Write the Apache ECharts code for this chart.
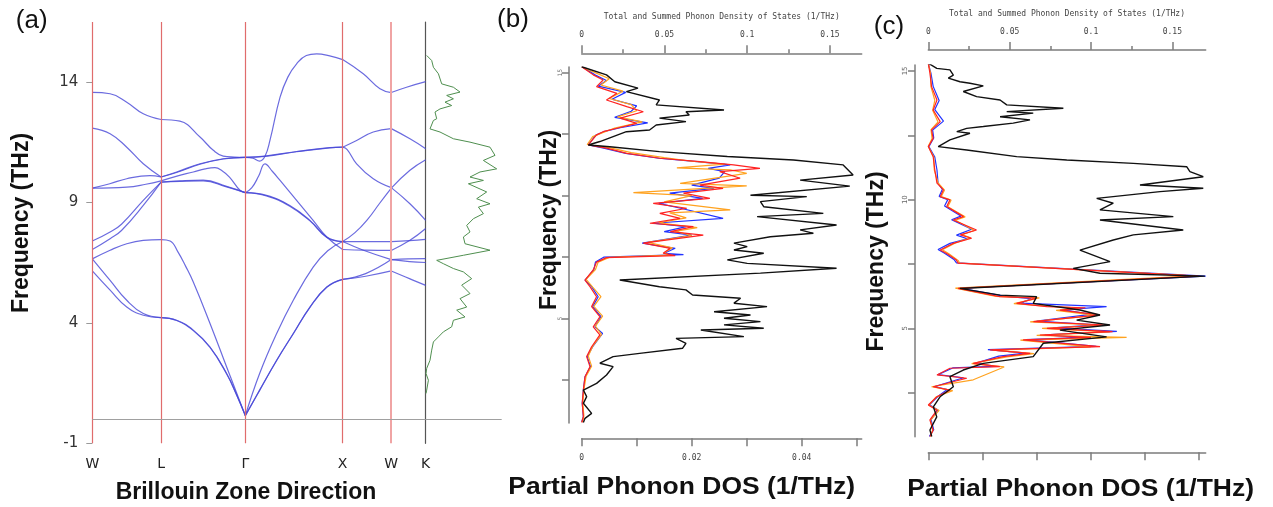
<!DOCTYPE html>
<html><head><meta charset="utf-8">
<script src="https://cdn.jsdelivr.net/npm/echarts@6/dist/echarts.min.js"></script>
<style>html,body{margin:0;padding:0;background:#fff}#c{width:1273px;height:507px}</style>
</head><body><div id="c"></div><script>
// ---------- Panel (a): band structure ----------
const kPos = [0, 0.707, 1.573, 2.573, 3.073, 3.427];
const kLabels = ['W', 'L', 'Γ', 'X', 'W', 'K'];
const freqTicksA = [-1, 4, 9, 14];

const band1 = [[0,13.58],[0.183,13.52],[0.354,13.17],[0.524,12.69],[0.707,12.45],[0.90,12.38],[1.107,11.72],[1.244,11.17],[1.346,10.93],[1.46,10.89],[1.573,10.88],[1.65,10.84],[1.72,10.72],[1.775,10.92],[1.826,11.58],[1.93,13.38],[2.01,14.21],[2.10,14.76],[2.20,15.11],[2.306,15.18],[2.45,15.08],[2.573,14.94],[2.785,14.35],[2.957,13.73],[3.073,13.57],[3.23,13.79],[3.427,14.02]];
const band2 = [[0,12.09],[0.183,11.86],[0.354,11.30],[0.524,10.61],[0.707,10.06],[0.867,10.27],[1.107,10.61],[1.346,10.82],[1.573,10.88],[1.775,10.93],[2.10,11.12],[2.44,11.28],[2.573,11.30],[2.717,11.58],[2.888,11.93],[3.073,12.07],[3.265,11.65],[3.427,11.24]];
const band3 = [[0,9.6],[0.18,9.78],[0.354,9.99],[0.593,10.12],[0.707,10.06],[0.867,10.25],[1.107,10.59],[1.346,10.81],[1.573,10.88],[1.775,10.92],[2.10,11.11],[2.44,11.27],[2.573,11.30],[2.62,11.2],[2.717,10.61],[2.888,9.99],[3.073,9.62],[3.265,8.95],[3.427,8.26]];
const band4 = [[0,9.6],[0.354,9.64],[0.55,9.76],[0.707,9.9],[0.87,10.1],[1.038,10.27],[1.16,10.4],[1.261,10.45],[1.34,10.3],[1.41,10.06],[1.518,9.51],[1.573,9.41],[1.64,9.62],[1.71,10.1],[1.775,10.61],[1.85,10.3],[1.93,9.92],[2.10,9.09],[2.27,8.26],[2.41,7.57],[2.573,7.05],[2.8,7.02],[3.073,7.01],[3.265,7.43],[3.427,7.92]];
const band5 = [[0,7.40],[0.183,7.78],[0.30,8.1],[0.524,9.09],[0.707,9.85],[0.9,9.9],[1.14,9.93],[1.38,9.67],[1.573,9.41],[1.79,9.30],[2.03,8.88],[2.237,8.26],[2.41,7.57],[2.573,7.38],[2.8,7.38],[3.073,7.38],[3.26,7.42],[3.427,7.47]];
const band6 = [[0,7.05],[0.183,7.5],[0.30,7.84],[0.524,8.88],[0.707,9.85],[0.9,9.88],[1.14,9.9],[1.38,9.65],[1.573,9.41],[1.79,9.28],[2.03,8.85],[2.237,8.24],[2.41,7.55],[2.573,7.38],[2.787,7.02],[3.073,6.63],[3.26,6.55],[3.427,6.51]];
const band7 = [[0,6.66],[0.183,7.02],[0.354,7.29],[0.524,7.43],[0.707,7.46],[0.80,7.40],[0.88,6.95],[0.96,6.35],[1.038,5.70],[1.21,3.98],[1.381,2.17],[1.573,0.15],[1.72,1.90],[1.895,3.56],[2.066,4.94],[2.27,6.32],[2.42,7.0],[2.573,7.38],[2.70,7.75],[2.83,8.3],[2.95,8.95],[3.073,9.6],[3.265,10.34],[3.427,10.78]];
const band8 = [[0,6.66],[0.183,5.77],[0.354,4.94],[0.524,4.39],[0.707,4.22],[0.867,4.11],[1.038,3.70],[1.21,3.0],[1.381,1.90],[1.48,1.05],[1.573,0.15],[1.72,1.21],[1.895,2.45],[2.066,3.56],[2.237,4.66],[2.41,5.49],[2.573,5.81],[2.81,6.05],[3.073,6.63],[3.25,6.66],[3.427,6.67]];
const band9 = [[0,6.16],[0.183,5.36],[0.354,4.66],[0.524,4.32],[0.707,4.22],[0.867,4.10],[1.038,3.68],[1.21,2.98],[1.381,1.88],[1.48,1.04],[1.573,0.15],[1.72,1.20],[1.895,2.44],[2.066,3.55],[2.237,4.65],[2.41,5.48],[2.573,5.81],[2.81,5.94],[3.073,6.16],[3.26,5.84],[3.427,5.56]];

// DOS of panel (a), arbitrary units
const dosA = [[1,15.11],[6,14.90],[7.7,14.62],[12.7,14.35],[16,13.93],[27.7,13.79],[34.3,13.59],[21,13.45],[27.7,13.31],[19.3,13.17],[26,13.03],[14.3,12.89],[9.3,12.76],[11,12.48],[7.7,12.41],[4.3,12.06],[14.3,11.93],[27.7,11.65],[44.3,11.51],[64.3,11.30],[69.3,10.96],[57.7,10.75],[71,10.40],[54.3,10.27],[44.3,10.06],[57.7,9.92],[42.7,9.78],[61,9.44],[51,9.16],[64.3,8.95],[52.7,8.81],[57.7,8.54],[47.7,8.33],[41,8.05],[44.3,7.78],[37.7,7.57],[39.3,7.29],[64.3,7.02],[37.7,6.81],[11,6.60],[17.7,6.46],[27.7,6.26],[37.7,6.12],[46,5.84],[36,5.57],[44.3,5.22],[34.3,5.01],[41,4.66],[31,4.53],[39.3,4.25],[27.7,4.11],[26,3.84],[17.7,3.63],[12.7,3.42],[7.7,3.21],[6,2.87],[4.3,2.45],[1,2.11],[0.3,1.90],[2.7,1.62],[1,1.21],[0.3,1.07]];

// ---------- Panel (b) ----------
const totalB = [[0,15.24],[0.015,14.91],[0.020,14.63],[0.034,14.37],[0.027,14.23],[0.047,13.89],[0.045,13.69],[0.086,13.48],[0.063,13.41],[0.065,13.28],[0.047,13.15],[0.063,13.01],[0.045,12.87],[0.041,12.67],[0.027,12.60],[0.019,12.40],[0.011,12.20],[0.004,12.06],[0.017,11.99],[0.047,11.79],[0.088,11.59],[0.128,11.45],[0.158,11.25],[0.164,10.84],[0.132,10.63],[0.162,10.39],[0.102,10.02],[0.136,9.96],[0.108,9.76],[0.110,9.55],[0.146,9.28],[0.106,9.15],[0.154,8.81],[0.132,8.61],[0.140,8.47],[0.114,8.33],[0.092,8.07],[0.100,7.93],[0.092,7.79],[0.110,7.66],[0.088,7.39],[0.100,7.25],[0.154,7.05],[0.108,6.85],[0.023,6.57],[0.047,6.30],[0.063,6.17],[0.067,5.96],[0.096,5.83],[0.092,5.63],[0.112,5.49],[0.080,5.28],[0.102,5.15],[0.086,5.02],[0.108,4.88],[0.086,4.75],[0.110,4.61],[0.072,4.54],[0.098,4.27],[0.057,4.20],[0.063,4.00],[0.061,3.80],[0.035,3.59],[0.019,3.46],[0.011,3.19],[0.019,3.05],[0.015,2.71],[0.009,2.37],[0.001,2.10],[0.003,1.83],[0.001,1.56],[0.006,1.15],[0.002,0.95],[0.001,0.78]];
const redB = [[0,15.24],[0.0021,14.91],[0.0039,14.70],[0.0027,14.43],[0.0064,14.16],[0.0045,13.89],[0.0082,13.62],[0.0112,13.41],[0.0070,13.15],[0.0100,12.94],[0.0064,12.74],[0.0039,12.60],[0.0027,12.47],[0.0012,12.06],[0.0045,11.93],[0.0082,11.72],[0.0142,11.52],[0.0215,11.38],[0.0276,11.25],[0.0324,11.11],[0.0251,10.98],[0.0288,10.71],[0.0215,10.43],[0.0257,10.30],[0.0185,10.10],[0.0233,9.89],[0.0130,9.69],[0.0191,9.49],[0.0142,9.28],[0.0179,9.08],[0.0124,8.88],[0.0203,8.74],[0.0161,8.54],[0.0221,8.40],[0.0112,8.07],[0.0161,7.86],[0.0148,7.66],[0.0170,7.56],[0.0045,7.48],[0.0027,7.30],[0.0021,6.98],[0.0006,6.57],[0.0015,6.30],[0.0027,5.89],[0.0018,5.49],[0.0033,5.08],[0.0021,4.67],[0.0033,4.34],[0.0018,3.86],[0.0009,3.46],[0.0015,3.05],[0.0006,2.64],[0.0003,2.10],[0.0001,1.56],[0.0003,1.02],[0,0.78]];
const orangeB = [[0.0003,15.2],[0.0030,14.95],[0.0050,14.75],[0.0035,14.5],[0.0075,14.25],[0.0050,13.95],[0.0090,13.7],[0.0100,13.45],[0.0065,13.2],[0.0110,13.0],[0.0060,12.75],[0.0045,12.62],[0.0020,12.40],[0.0010,12.08],[0.0050,11.95],[0.0090,11.75],[0.0150,11.55],[0.0200,11.40],[0.0260,11.28],[0.0173,11.13],[0.0270,11.05],[0.0300,10.91],[0.0179,10.50],[0.0300,10.40],[0.0094,10.12],[0.0200,10.0],[0.0150,9.75],[0.0270,9.42],[0.0160,9.30],[0.0190,9.10],[0.0140,8.90],[0.0210,8.70],[0.0170,8.55],[0.0200,8.38],[0.0120,8.10],[0.0165,7.88],[0.0150,7.68],[0.0160,7.58],[0.0050,7.49],[0.0030,7.30],[0.0025,7.0],[0.0008,6.60],[0.0020,6.28],[0.0035,5.90],[0.0022,5.50],[0.0038,5.10],[0.0025,4.70],[0.0036,4.35],[0.0020,3.88],[0.0012,3.48],[0.0018,3.07],[0.0008,2.66],[0.0004,2.12],[0.0002,1.58],[0.0004,1.04],[0.0001,0.8]];
const blueB = [[0.0002,15.22],[0.0025,14.90],[0.0045,14.68],[0.0030,14.45],[0.0080,14.20],[0.0055,13.92],[0.0100,13.65],[0.0090,13.43],[0.0060,13.18],[0.0120,12.96],[0.0070,12.76],[0.0040,12.60],[0.0025,12.45],[0.0012,12.06],[0.0040,11.93],[0.0080,11.72],[0.0140,11.52],[0.0210,11.38],[0.0270,11.25],[0.0230,11.11],[0.0260,10.98],[0.0250,10.71],[0.0200,10.43],[0.0240,10.30],[0.0160,10.10],[0.0220,9.89],[0.0140,9.69],[0.0180,9.49],[0.0257,9.08],[0.0130,8.88],[0.0190,8.74],[0.0150,8.54],[0.0200,8.40],[0.0110,8.07],[0.0170,7.86],[0.0150,7.66],[0.0185,7.60],[0.0040,7.50],[0.0025,7.30],[0.0022,6.98],[0.0006,6.57],[0.0018,6.30],[0.0030,5.89],[0.0020,5.49],[0.0035,5.08],[0.0024,4.67],[0.0038,4.40],[0.0020,3.86],[0.0010,3.46],[0.0016,3.05],[0.0006,2.64],[0.0003,2.10],[0.0001,1.56],[0.0003,1.02],[0,0.8]];

// ---------- Panel (c) ----------
const totalC = [[0,15.30],[0.0052,15.10],[0.0133,15.04],[0.0154,14.84],[0.0123,14.72],[0.0195,14.58],[0.0256,14.52],[0.0338,14.42],[0.0215,14.20],[0.0297,14.00],[0.0441,13.87],[0.0482,13.68],[0.0830,13.55],[0.0482,13.42],[0.0645,13.36],[0.0441,13.22],[0.0625,13.10],[0.0522,12.97],[0.0338,12.84],[0.0236,12.77],[0.0175,12.64],[0.0256,12.58],[0.0133,12.32],[0.0061,12.06],[0.0236,11.93],[0.0543,11.67],[0.0851,11.54],[0.1260,11.41],[0.1588,11.28],[0.1608,11.09],[0.1690,10.89],[0.1301,10.57],[0.1690,10.44],[0.1424,10.31],[0.1035,10.05],[0.1137,9.86],[0.1055,9.60],[0.1506,9.34],[0.1055,9.21],[0.1567,8.82],[0.1260,8.63],[0.1137,8.43],[0.0932,8.04],[0.1117,7.59],[0.0891,7.33],[0.1055,7.14],[0.1700,7.03],[0.0194,6.55],[0.0441,6.29],[0.0666,6.23],[0.0645,5.97],[0.0932,5.71],[0.1055,5.52],[0.0912,5.32],[0.1117,5.13],[0.0809,4.93],[0.1096,4.67],[0.0707,4.42],[0.0645,3.90],[0.0338,3.64],[0.0215,3.38],[0.0133,3.12],[0.0154,2.73],[0.0072,2.34],[0.0031,1.95],[0.0052,1.56],[0.0010,1.05],[0.0021,0.80]];
const redC = [[0,15.30],[0.0003,14.91],[0.0006,14.39],[0.0016,13.87],[0.0009,13.48],[0.0022,13.03],[0.0006,12.71],[0.0009,12.38],[0,12.06],[0.0009,11.67],[0.0012,11.15],[0.0016,10.64],[0.0028,10.38],[0.0022,10.11],[0.0040,9.99],[0.0034,9.73],[0.0065,9.34],[0.0046,9.21],[0.0089,8.82],[0.0059,8.63],[0.0080,8.50],[0.0046,8.30],[0.0022,8.04],[0.0034,7.91],[0.0052,7.65],[0.0055,7.53],[0.0498,7.03],[0.0055,6.55],[0.0132,6.23],[0.0200,6.17],[0.0163,5.97],[0.0219,5.84],[0.0290,5.80],[0.0243,5.71],[0.0317,5.52],[0.0194,5.26],[0.0329,5.13],[0.0219,5.00],[0.0340,4.87],[0.0206,4.74],[0.0300,4.65],[0.0175,4.55],[0.0317,4.29],[0.0114,4.16],[0.0188,4.03],[0.0138,3.90],[0.0083,3.64],[0.0132,3.51],[0.0040,3.45],[0.0016,3.19],[0.0071,3.06],[0.0009,2.73],[0.0040,2.60],[0.0016,2.34],[0,2.02],[0.0016,1.82],[0.0003,1.44],[0.0009,1.05],[0.0003,0.80]];
const blueC = [[0,15.28],[0.0005,14.90],[0.0009,14.40],[0.0020,13.85],[0.0012,13.50],[0.0028,13.05],[0.0008,12.70],[0.0010,12.40],[0.0001,12.06],[0.0012,11.65],[0.0016,11.15],[0.0018,10.64],[0.0026,10.40],[0.0020,10.12],[0.0036,10.0],[0.0030,9.75],[0.0060,9.36],[0.0043,9.22],[0.0080,8.85],[0.0052,8.62],[0.0072,8.48],[0.0040,8.30],[0.0018,8.06],[0.0030,7.92],[0.0048,7.66],[0.0052,7.54],[0.0512,7.03],[0.0058,6.56],[0.0140,6.25],[0.0190,6.15],[0.0170,5.98],[0.0329,5.84],[0.0250,5.72],[0.0300,5.54],[0.0200,5.28],[0.0310,5.14],[0.0230,5.02],[0.0348,4.88],[0.0215,4.75],[0.0280,4.64],[0.0180,4.56],[0.0310,4.30],[0.0110,4.17],[0.0180,4.04],[0.0130,3.92],[0.0090,3.66],[0.0120,3.52],[0.0045,3.46],[0.0018,3.20],[0.0065,3.08],[0.0012,2.74],[0.0035,2.62],[0.0018,2.36],[0.0002,2.03],[0.0018,1.83],[0.0005,1.45],[0.0010,1.06],[0.0002,0.80]];
const orangeC = [[0,15.29],[0.0004,14.92],[0.0005,14.38],[0.0012,13.86],[0.0008,13.47],[0.0018,13.02],[0.0005,12.72],[0.0007,12.37],[0,12.07],[0.0010,11.66],[0.0011,11.16],[0.0018,10.65],[0.0030,10.37],[0.0024,10.12],[0.0042,9.98],[0.0036,9.72],[0.0068,9.33],[0.0050,9.20],[0.0085,8.80],[0.0062,8.64],[0.0078,8.52],[0.0050,8.32],[0.0026,8.05],[0.0038,7.90],[0.0055,7.64],[0.0058,7.53],[0.0490,7.04],[0.0050,6.56],[0.0125,6.24],[0.0205,6.18],[0.0158,5.96],[0.0225,5.85],[0.0280,5.79],[0.0236,5.70],[0.0310,5.50],[0.0188,5.25],[0.0320,5.12],[0.0210,5.00],[0.0335,4.86],[0.0200,4.73],[0.0366,4.65],[0.0170,4.54],[0.0300,4.28],[0.0120,4.15],[0.0195,4.02],[0.0145,3.89],[0.0080,3.63],[0.0140,3.50],[0.0083,3.0],[0.0006,2.73],[0.0045,2.58],[0.0014,2.33],[0.0001,2.01],[0.0020,1.81],[0.0004,1.43],[0.0008,1.04],[0.0004,0.80]];

// ---------- tick sets ----------
const dosTopTicks = [0, 0.05, 0.1, 0.15];
const dosTopMinor = [0.025, 0.075, 0.125];
const dosBotTicks = [0, 0.01, 0.02, 0.03, 0.04, 0.05];
const dosBotLabels = [0, 0.02, 0.04];
const freqTicksBC = [2.5, 5, 7.5, 10, 12.5, 15];
const freqLabelsB = [5, 15];
const freqLabelsC = [5, 10, 15];
const topTitle = 'Total and Summed Phonon Density of States (1/THz)';

// ---------- build ----------
const bands = [band1, band2, band3, band4, band5, band6, band7, band8, band9];
function splitBand(pts) {
  const segs = [];
  for (let i = 0; i < kPos.length - 1; i++) {
    const a = kPos[i], b = kPos[i + 1];
    segs.push(pts.filter(p => p[0] >= a - 1e-9 && p[0] <= b + 1e-9));
  }
  return segs;
}
function nearestIdx(v) {
  let bi = 0, bd = 1e9;
  kPos.forEach((k, i) => { const d = Math.abs(k - v); if (d < bd) { bd = d; bi = i; } });
  return bi;
}
const gray = '#7c7c7c';
const redLine = '#e06c6c';
const series = [];
series.push({
  type: 'line', xAxisIndex: 0, yAxisIndex: 0, data: [], silent: true, z: 1,
  markLine: {
    silent: true, symbol: ['none', 'none'], label: { show: false }, animation: false,
    data: [
      { xAxis: kPos[0], lineStyle: { color: redLine, width: 1.2, type: 'solid' } },
      { xAxis: kPos[1], lineStyle: { color: redLine, width: 1.2, type: 'solid' } },
      { xAxis: kPos[2], lineStyle: { color: redLine, width: 1.2, type: 'solid' } },
      { xAxis: kPos[3], lineStyle: { color: redLine, width: 1.2, type: 'solid' } },
      { xAxis: kPos[4], lineStyle: { color: '#f0a4a4', width: 2, type: 'solid' } },
      { yAxis: 0, lineStyle: { color: '#a0a0a0', width: 1, type: 'solid' } }
    ]
  }
});
bands.forEach(b => {
  splitBand(b).forEach(seg => {
    series.push({
      type: 'line', xAxisIndex: 0, yAxisIndex: 0, data: seg, smooth: 0.45,
      showSymbol: false, silent: true, z: 3,
      lineStyle: { color: 'rgba(70,70,215,0.8)', width: 1.2 }
    });
  });
});
series.push({
  type: 'line', xAxisIndex: 1, yAxisIndex: 1, data: dosA, showSymbol: false, silent: true,
  lineStyle: { color: '#4f8f4f', width: 1 },
  markLine: { silent: true, symbol: ['none', 'none'], label: { show: false }, animation: false,
    data: [{ yAxis: 0, lineStyle: { color: '#a0a0a0', width: 1, type: 'solid' } }] }
});
function dosLine(data, xi, yi, color, w) {
  return { type: 'line', xAxisIndex: xi, yAxisIndex: yi, data: data, showSymbol: false, silent: true,
    lineStyle: { color: color, width: w } };
}
const cBlue = '#2233ff', cOrange = '#ffa21f', cRed = '#ff2222', cBlack = '#111';
series.push(dosLine(blueB, 4, 2, cBlue, 1.2));
series.push(dosLine(orangeB, 4, 2, cOrange, 1.2));
series.push(dosLine(redB, 4, 2, cRed, 1.2));
series.push(dosLine(totalB, 2, 2, cBlack, 1.4));
series.push(dosLine(blueC, 7, 3, cBlue, 1.2));
series.push(dosLine(orangeC, 7, 3, cOrange, 1.2));
series.push(dosLine(redC, 7, 3, cRed, 1.2));
series.push(dosLine(totalC, 5, 3, cBlack, 1.4));

const smallFont = { fontSize: 8, fontFamily: 'DejaVu Sans Mono', color: '#444' };
function topAxis(grid, max, off) {
  return { gridIndex: grid, type: 'value', position: 'top', min: 0, max: max, offset: off,
    axisLine: { onZero: false, lineStyle: { color: gray, width: 1.5 } },
    axisTick: { customValues: dosTopTicks, length: 8, lineStyle: { color: gray, width: 1.5 } },
    axisLabel: Object.assign({ customValues: dosTopTicks, margin: 14 }, smallFont),
    splitLine: { show: false },
    name: topTitle, nameLocation: 'middle', nameGap: 32,
    nameTextStyle: { fontSize: 8, fontFamily: 'DejaVu Sans Mono', color: '#444' } };
}
function minorAxis(grid, max, off) {
  return { gridIndex: grid, type: 'value', position: 'top', min: 0, max: max, offset: off,
    axisLine: { show: false, onZero: false },
    axisTick: { customValues: dosTopMinor, length: 4, lineStyle: { color: gray, width: 1.5 } },
    axisLabel: { show: false }, splitLine: { show: false } };
}
function botAxis(grid, max, off, showLabels) {
  return { gridIndex: grid, type: 'value', position: 'bottom', min: 0, max: max, offset: off,
    axisLine: { onZero: false, lineStyle: { color: gray, width: 1.5 } },
    axisTick: { customValues: dosBotTicks, length: 8, lineStyle: { color: gray, width: 1.5 } },
    axisLabel: Object.assign({ show: showLabels, customValues: dosBotLabels, margin: 16 }, smallFont),
    splitLine: { show: false } };
}
function freqAxis(grid, min, max, off, labels, fs) {
  return { gridIndex: grid, type: 'value', min: min, max: max, offset: off,
    axisLine: { show: true, onZero: false, lineStyle: { color: gray, width: 1.5 } },
    axisTick: { customValues: freqTicksBC, length: 7, lineStyle: { color: gray, width: 1.5 } },
    axisLabel: { customValues: labels, fontSize: fs, color: '#666', margin: 6, rotate: 90, fontFamily: 'DejaVu Sans' },
    splitLine: { show: false } };
}

const boldTitle = 'bold 23px "Liberation Sans", Arial, sans-serif';
function txt(x, y, text, font, extra) {
  return Object.assign({ type: 'text', x: x, y: y, silent: true,
    style: { text: text, font: font, fill: '#111', align: 'center', verticalAlign: 'middle',
      textAlign: 'center', textVerticalAlign: 'middle' } }, extra || {});
}

const option = {
  animation: false,
  backgroundColor: '#fff',
  textStyle: { fontFamily: 'Liberation Sans' },
  grid: [
    { left: 92.3, top: 22, width: 333.4, height: 421.3 },
    { left: 425.7, top: 22, width: 76, height: 421.3 },
    { left: 581.7, top: 67, width: 280, height: 356 },
    { left: 928.3, top: 65, width: 277.4, height: 371.7 }
  ],
  xAxis: [
    { gridIndex: 0, type: 'value', min: 0, max: kPos[kPos.length - 1],
      axisLine: { show: false, onZero: false }, axisTick: { show: false }, splitLine: { show: false },
      axisLabel: { customValues: kPos, formatter: v => kLabels[nearestIdx(v)], fontFamily: 'DejaVu Sans', fontSize: 14, color: '#222', margin: 14 } },
    { gridIndex: 1, type: 'value', min: 0, max: 76, show: false, axisLine: { onZero: false } },
    topAxis(2, 0.1692, 13.7),
    minorAxis(2, 0.1692, 13.7),
    botAxis(2, 0.0509, 15.3, true),
    topAxis(3, 0.1705, 15),
    minorAxis(3, 0.1705, 15),
    botAxis(3, 0.0512, 15.6, false)
  ],
  yAxis: [
    { gridIndex: 0, type: 'value', min: -1, max: 16.5,
      axisLine: { show: false, onZero: false },
      axisTick: { customValues: freqTicksA, length: 6, lineStyle: { color: '#999' } },
      axisLabel: { customValues: freqTicksA, fontSize: 15, fontFamily: 'DejaVu Sans', color: '#333', margin: 14 },
      splitLine: { show: false } },
    { gridIndex: 1, type: 'value', min: -1, max: 16.5,
      axisLine: { show: true, onZero: false, lineStyle: { color: '#555', width: 1.2 } },
      axisTick: { show: false }, axisLabel: { show: false }, splitLine: { show: false } },
    freqAxis(2, 0.76, 15.23, 12.7, freqLabelsB, 6),
    freqAxis(3, 0.79, 15.23, 13.3, freqLabelsC, 7)
  ],
  series: series,
  graphic: { elements: [
    txt(31.7, 21, '(a)', '26px "Liberation Sans", Arial, sans-serif'),
    txt(513, 20, '(b)', '26px "Liberation Sans", Arial, sans-serif'),
    txt(889, 26.5, '(c)', '26px "Liberation Sans", Arial, sans-serif'),
    txt(22, 223, 'Frequency (THz)', boldTitle, { rotation: Math.PI / 2 }),
    txt(550, 220, 'Frequency (THz)', boldTitle, { rotation: Math.PI / 2 }),
    txt(876.5, 261.5, 'Frequency (THz)', boldTitle, { rotation: Math.PI / 2 }),
    txt(246, 493, 'Brillouin Zone Direction', boldTitle),
    txt(681.7, 488, 'Partial Phonon DOS (1/THz)', boldTitle, { scaleX: 1.15 }),
    txt(1080.6, 490, 'Partial Phonon DOS (1/THz)', boldTitle, { scaleX: 1.15 })
  ] }
};
const chart = echarts.init(document.getElementById('c'));
chart.setOption(option);
</script></body></html>
